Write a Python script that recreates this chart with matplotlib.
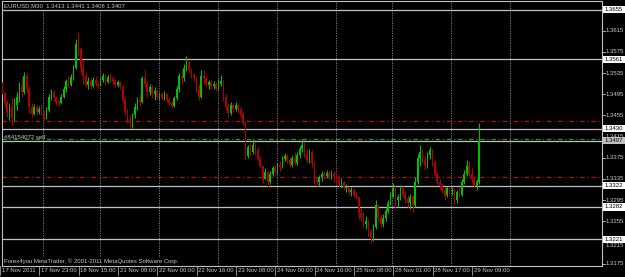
import matplotlib
matplotlib.use('Agg')
import matplotlib.pyplot as plt
from matplotlib import transforms
from matplotlib.patches import Rectangle
from matplotlib.lines import Line2D

plt.rcParams['font.family'] = ['Liberation Sans', 'DejaVu Sans']

# ---------------- data ----------------
title_text = "EURUSD,M30  1.3413 1.3441 1.3406 1.3407"
copyright_text = "Forex4you MetaTrader, \u00a9 2001-2011 MetaQuotes Software Corp."
order_label = "#84154072 sell"

first_open = 1.3512
closes = [
    1.3498, 1.3480, 1.3460, 1.3470, 1.3450, 1.3475, 1.3490, 1.3510, 1.3500, 1.3530,
    1.3505, 1.3470, 1.3458, 1.3470, 1.3462, 1.3468, 1.3460, 1.3450, 1.3465, 1.3490,
    1.3500, 1.3488, 1.3480, 1.3478, 1.3490, 1.3505, 1.3520, 1.3512, 1.3528, 1.3545,
    1.3590, 1.3580, 1.3545, 1.3530, 1.3512, 1.3520, 1.3510, 1.3522, 1.3515, 1.3510,
    1.3522, 1.3530, 1.3518, 1.3528, 1.3524, 1.3520, 1.3512, 1.3518, 1.3510, 1.3485,
    1.3462, 1.3445, 1.3440, 1.3455, 1.3470, 1.3485, 1.3480, 1.3525, 1.3515, 1.3500,
    1.3508, 1.3495, 1.3502, 1.3490, 1.3496, 1.3488, 1.3495, 1.3485, 1.3478, 1.3472,
    1.3488, 1.3505, 1.3530, 1.3525, 1.3545, 1.3555, 1.3540, 1.3530, 1.3525, 1.3505,
    1.3490, 1.3530, 1.3525, 1.3512, 1.3518, 1.3510, 1.3515, 1.3505, 1.3515, 1.3520,
    1.3490, 1.3470, 1.3460, 1.3475, 1.3468, 1.3475, 1.3465, 1.3455, 1.3440, 1.3378,
    1.3395, 1.3385, 1.3400, 1.3390, 1.3372, 1.3360, 1.3335, 1.3348, 1.3330, 1.3345,
    1.3355, 1.3350, 1.3362, 1.3358, 1.3372, 1.3378, 1.3370, 1.3362, 1.3375, 1.3365,
    1.3380, 1.3392, 1.3400, 1.3380, 1.3370, 1.3385, 1.3365, 1.3332, 1.3330, 1.3338,
    1.3345, 1.3340, 1.3346, 1.3338, 1.3345, 1.3340, 1.3335, 1.3325, 1.3330, 1.3318,
    1.3320, 1.3310, 1.3315, 1.3305, 1.3300, 1.3270, 1.3262, 1.3250, 1.3255, 1.3235,
    1.3225, 1.3245, 1.3285, 1.3262, 1.3250, 1.3262, 1.3275, 1.3290, 1.3300, 1.3318,
    1.3295, 1.3300, 1.3318, 1.3305, 1.3298, 1.3290, 1.3300, 1.3285, 1.3330, 1.3375,
    1.3385, 1.3370, 1.3360, 1.3380, 1.3390, 1.3365, 1.3345, 1.3330, 1.3322, 1.3315,
    1.3305, 1.3318, 1.3312, 1.3315, 1.3295, 1.3310, 1.3305, 1.3330, 1.3345, 1.3360,
    1.3345, 1.3335, 1.3322, 1.3330, 1.3407,
]
highs = [
    1.3518, 1.3500, 1.3485, 1.3478, 1.3490, 1.3488, 1.3500, 1.3518, 1.3525, 1.3537,
    1.3535, 1.3510, 1.3478, 1.3476, 1.3475, 1.3472, 1.3475, 1.3466, 1.3470, 1.3495,
    1.3505, 1.3503, 1.3492, 1.3485, 1.3495, 1.3510, 1.3524, 1.3530, 1.3534, 1.3550,
    1.3600, 1.3612, 1.3585, 1.3560, 1.3535, 1.3528, 1.3525, 1.3528, 1.3530, 1.3520,
    1.3528, 1.3535, 1.3533, 1.3532, 1.3535, 1.3530, 1.3524, 1.3522, 1.3520, 1.3512,
    1.3490, 1.3468, 1.3455, 1.3460, 1.3478, 1.3490, 1.3495, 1.3530, 1.3541, 1.3520,
    1.3515, 1.3512, 1.3508, 1.3505, 1.3500, 1.3500, 1.3502, 1.3498, 1.3490, 1.3482,
    1.3492, 1.3510, 1.3535, 1.3542, 1.3552, 1.3567, 1.3560, 1.3545, 1.3535, 1.3530,
    1.3515, 1.3541, 1.3540, 1.3530, 1.3522, 1.3522, 1.3520, 1.3518, 1.3524, 1.3531,
    1.3522, 1.3495, 1.3478, 1.3480, 1.3478, 1.3480, 1.3478, 1.3470, 1.3462, 1.3445,
    1.3400, 1.3402, 1.3410, 1.3405, 1.3395, 1.3378, 1.3362, 1.3355, 1.3352, 1.3350,
    1.3360, 1.3362, 1.3366, 1.3368, 1.3378, 1.3384, 1.3382, 1.3376, 1.3380, 1.3385,
    1.3386, 1.3398, 1.3410, 1.3405, 1.3392, 1.3392, 1.3390, 1.3368, 1.3338, 1.3342,
    1.3350, 1.3350, 1.3352, 1.3350, 1.3352, 1.3350, 1.3348, 1.3340, 1.3336, 1.3332,
    1.3326, 1.3322, 1.3320, 1.3318, 1.3312, 1.3302, 1.3280, 1.3272, 1.3265, 1.3260,
    1.3240, 1.3250, 1.3295, 1.3288, 1.3268, 1.3268, 1.3280, 1.3296, 1.3310, 1.3327,
    1.3322, 1.3306, 1.3324, 1.3322, 1.3312, 1.3305, 1.3306, 1.3305, 1.3338, 1.3382,
    1.3399, 1.3392, 1.3378, 1.3385, 1.3395, 1.3392, 1.3370, 1.3350, 1.3335, 1.3328,
    1.3320, 1.3322, 1.3322, 1.3320, 1.3318, 1.3315, 1.3320, 1.3335, 1.3352, 1.3371,
    1.3368, 1.3355, 1.3340, 1.3335, 1.3441,
]
lows = [
    1.3495, 1.3470, 1.3452, 1.3446, 1.3437, 1.3445, 1.3465, 1.3480, 1.3490, 1.3495,
    1.3498, 1.3460, 1.3452, 1.3455, 1.3455, 1.3458, 1.3455, 1.3446, 1.3448, 1.3462,
    1.3485, 1.3482, 1.3474, 1.3472, 1.3476, 1.3487, 1.3500, 1.3508, 1.3510, 1.3522,
    1.3542, 1.3570, 1.3535, 1.3515, 1.3508, 1.3505, 1.3505, 1.3508, 1.3510, 1.3506,
    1.3512, 1.3518, 1.3515, 1.3516, 1.3518, 1.3514, 1.3508, 1.3508, 1.3505, 1.3478,
    1.3455, 1.3440, 1.3433, 1.3431, 1.3450, 1.3465, 1.3472, 1.3478, 1.3508, 1.3490,
    1.3494, 1.3488, 1.3484, 1.3486, 1.3484, 1.3484, 1.3485, 1.3480, 1.3474, 1.3469,
    1.3470, 1.3484, 1.3500, 1.3515, 1.3520, 1.3538, 1.3535, 1.3525, 1.3520, 1.3500,
    1.3484, 1.3488, 1.3516, 1.3508, 1.3505, 1.3505, 1.3505, 1.3502, 1.3503, 1.3510,
    1.3482, 1.3465, 1.3452, 1.3456, 1.3462, 1.3464, 1.3460, 1.3450, 1.3437, 1.3372,
    1.3375, 1.3378, 1.3382, 1.3380, 1.3368, 1.3355, 1.3327, 1.3335, 1.3320, 1.3325,
    1.3340, 1.3343, 1.3345, 1.3350, 1.3355, 1.3368, 1.3365, 1.3358, 1.3358, 1.3362,
    1.3362, 1.3375, 1.3385, 1.3375, 1.3365, 1.3365, 1.3358, 1.3325, 1.3322, 1.3322,
    1.3332, 1.3335, 1.3336, 1.3335, 1.3334, 1.3330, 1.3326, 1.3320, 1.3318, 1.3314,
    1.3310, 1.3305, 1.3302, 1.3300, 1.3298, 1.3260, 1.3255, 1.3245, 1.3240, 1.3228,
    1.3214, 1.3218, 1.3240, 1.3255, 1.3245, 1.3244, 1.3255, 1.3270, 1.3285, 1.3300,
    1.3280, 1.3282, 1.3296, 1.3300, 1.3290, 1.3282, 1.3278, 1.3273, 1.3282, 1.3325,
    1.3360, 1.3365, 1.3352, 1.3356, 1.3372, 1.3360, 1.3340, 1.3325, 1.3316, 1.3308,
    1.3295, 1.3300, 1.3305, 1.3305, 1.3286, 1.3290, 1.3300, 1.3302, 1.3325, 1.3340,
    1.3340, 1.3328, 1.3318, 1.3314, 1.3325,
]

time_labels = ["17 Nov 2011", "17 Nov 23:00", "18 Nov 15:00", "21 Nov 08:00",
               "22 Nov 00:00", "22 Nov 16:00", "23 Nov 08:00", "24 Nov 00:00",
               "24 Nov 16:00", "25 Nov 08:00", "28 Nov 01:00", "28 Nov 17:00",
               "29 Nov 09:00"]
time_label_slots = [0, 32, 64, 96, 128, 160, 192, 224, 256, 288, 320, 352, 384]
day_separator_slots = [34, 80, 128, 176, 224, 272, 318, 366, 414]

price_ticks = [1.3615, 1.3575, 1.3535, 1.3495, 1.3455, 1.3415, 1.3375,
               1.3335, 1.3295, 1.3255, 1.3215, 1.3175]
hline_levels = [1.3655, 1.3561, 1.3430, 1.3322, 1.3282, 1.3221]
current_price = 1.3407
order_open = 1.3410
order_stop = 1.3444
order_take = 1.3338

# ---------------- style ----------------
W, H = 625, 277
BG = 'black'
FG = '#c8c8c8'
UP = '#00c000'
DN = '#b00000'
LINE = '#c0c0c0'
GRID = '#8a8a8a'
FS = 4.3

fig = plt.figure(figsize=(W / 100, H / 100), dpi=100, facecolor=BG)
ax_left, ax_right, ax_top, ax_bottom = 2, 602, 1, 266
ax = fig.add_axes([ax_left / W, (H - ax_bottom) / H,
                   (ax_right - ax_left) / W, (ax_bottom - ax_top) / H])
ax.set_facecolor(BG)
ax.set_xlim(0.4, 488.6)
ax.set_ylim(1.31705, 1.36711)
ax.set_xticks([])
ax.set_yticks([])
for s in ax.spines.values():
    s.set_color(LINE)
    s.set_linewidth(0.8)

# day separators
for s in day_separator_slots:
    ax.axvline(s, color=GRID, lw=0.6, ls=(0, (1.5, 1.5)), zorder=1)

# horizontal lines
for lv in hline_levels:
    ax.axhline(lv, color=LINE, lw=0.9, zorder=2)
ax.axhline(current_price, color=LINE, lw=0.9, zorder=2)
dashdot = (0, (4, 2.5, 1, 2.5))
ax.axhline(order_stop, color='#d00000', lw=0.8, ls=dashdot, zorder=2)
ax.axhline(order_take, color='#d00000', lw=0.8, ls=dashdot, zorder=2)
ax.axhline(order_open, color='#00b000', lw=0.8, ls=dashdot, zorder=2)

# candles (H1 bars on the M30 slot axis)
opens = [first_open] + closes[:-1]
for i, (o, h, l, c) in enumerate(zip(opens, highs, lows, closes)):
    x = 2 * i + 0.5
    col = UP if c >= o else DN
    ax.vlines(x, min(l, o, c), max(h, o, c), color=col, lw=0.75, zorder=3)
    body = max(abs(c - o), 0.00005)
    ax.bar(x, body, bottom=min(o, c), width=1.25, color=col, lw=0, zorder=3)

# texts inside chart
fig.text(4 / W, 1 - 5.5 / H, title_text, color=FG, fontsize=FS, ha='left', va='center',
         bbox=dict(facecolor=BG, edgecolor='none', pad=0.6), zorder=5)
fig.text(4 / W, 1 - 261.5 / H, copyright_text, color=FG, fontsize=FS, ha='left', va='center',
         bbox=dict(facecolor=BG, edgecolor='none', pad=0.6), zorder=5)
tr_lbl = transforms.blended_transform_factory(fig.transFigure, ax.transData)
ax.text(4 / W, order_open + 0.0004, order_label, color=FG, fontsize=FS, ha='left',
        va='center', transform=tr_lbl, zorder=5)

# right price scale
tr_r = transforms.blended_transform_factory(fig.transFigure, ax.transData)
box_h = 0.00068
box_levels = hline_levels + [current_price]
for p in price_ticks:
    ax.add_line(Line2D([602 / W, 605 / W], [p, p], transform=tr_r, color=FG, lw=0.6,
                       clip_on=False))
    # a label that would sit under a line-price box is pushed just below it
    ty, va = p, 'center'
    for lv in box_levels:
        if lv - box_h - 0.0004 < p < lv:
            ty, va = lv - box_h - 0.00005, 'top'
    ax.text(606 / W, ty, f"{p:.4f}", transform=tr_r, color=FG, fontsize=FS,
            ha='left', va=va, clip_on=False, zorder=6)

for lv in box_levels:
    fc = '#c0c0c0' if lv == current_price else 'white'
    ax.add_patch(Rectangle((603 / W, lv - box_h), 22 / W, 2 * box_h, transform=tr_r,
                           facecolor=fc, edgecolor='none', clip_on=False, zorder=7))
    ax.text(605 / W, lv, f"{lv:.4f}", transform=tr_r, color='black', fontsize=FS,
            ha='left', va='center', clip_on=False, zorder=8)

# bottom time scale
tr_b = transforms.blended_transform_factory(ax.transData, fig.transFigure)
for s, lab in zip(time_label_slots, time_labels):
    xs = s - 1.2
    ax.add_line(Line2D([xs, xs], [(H - 266) / H, (H - 275) / H], transform=tr_b,
                       color=FG, lw=0.5, clip_on=False))
    ax.text(xs + 1.4, (H - 271) / H, lab, transform=tr_b, color=FG, fontsize=FS,
            ha='left', va='center', clip_on=False)

fig.savefig('out.png', dpi=100, facecolor=BG)
